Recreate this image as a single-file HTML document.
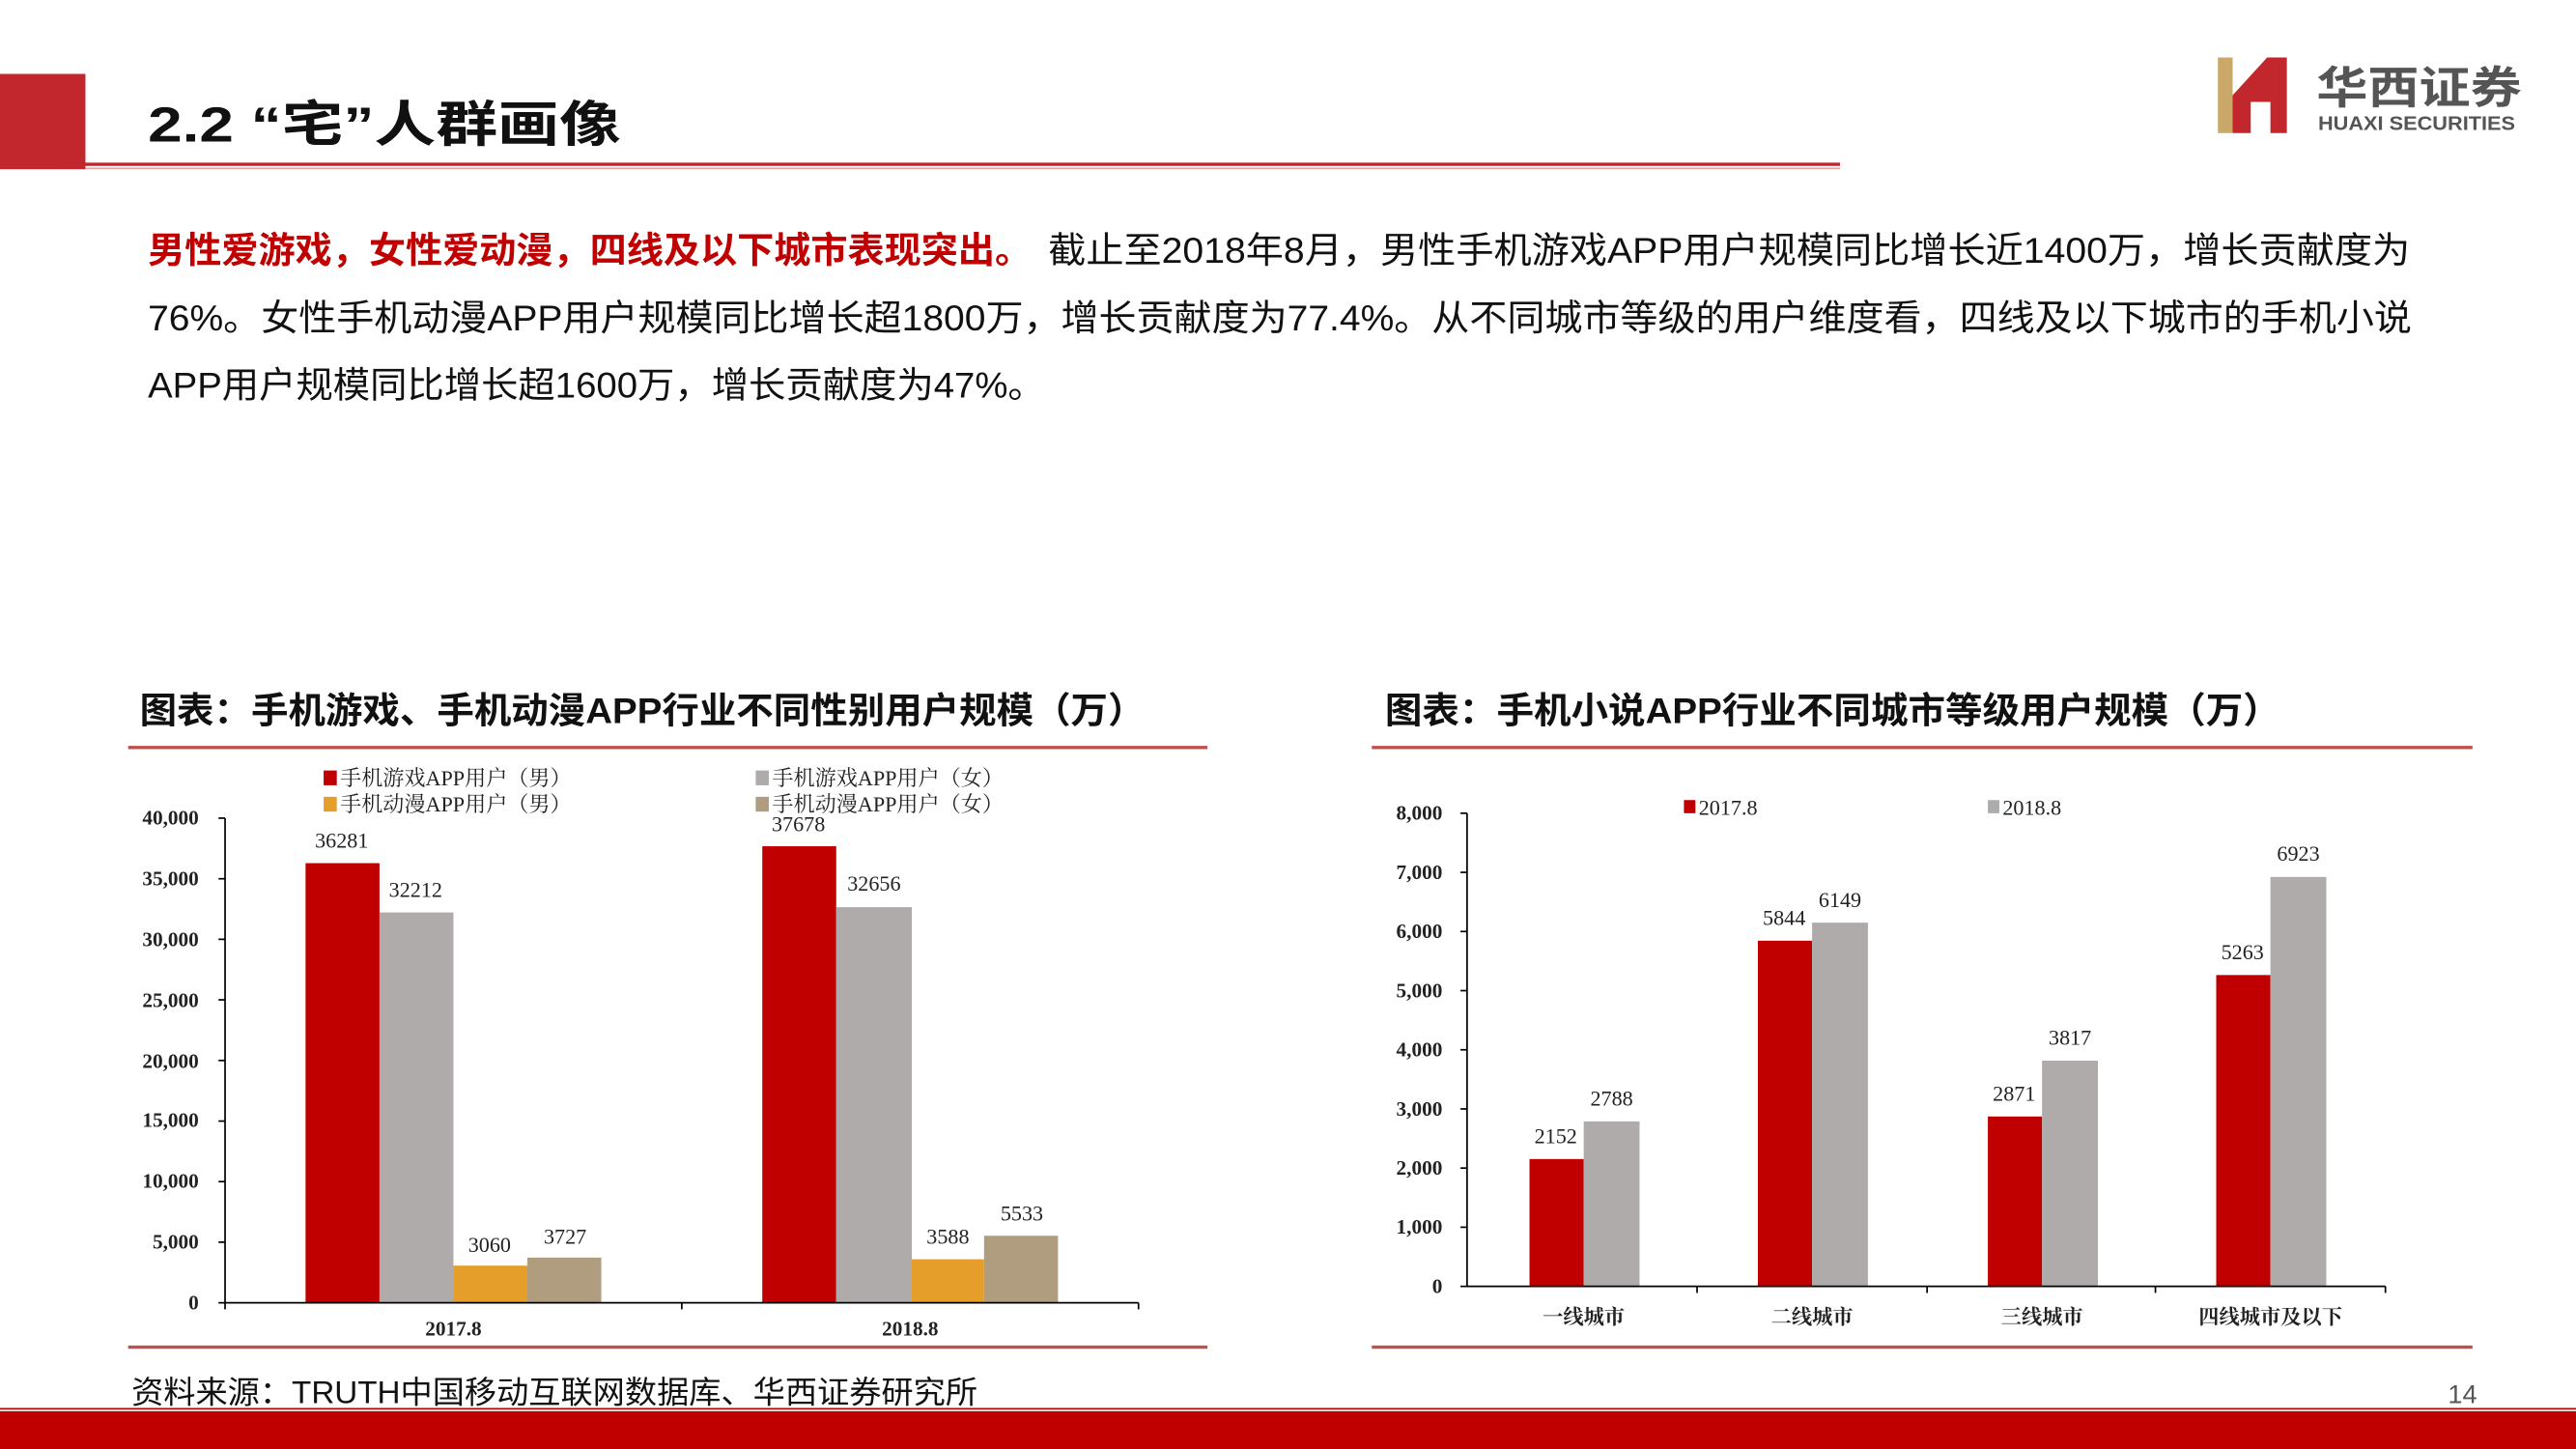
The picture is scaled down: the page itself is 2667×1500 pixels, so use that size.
<!DOCTYPE html>
<html><head><meta charset="utf-8"><style>
html,body{margin:0;padding:0;background:#fff;}
svg{display:block;}
text{font-family:"Liberation Sans","Noto Sans CJK SC",sans-serif;}
.s,.s text{font-family:"Liberation Serif","Noto Serif CJK SC",serif;font-size:13px;fill:#222;}
.t,.t text{font-family:"Liberation Serif","Noto Serif CJK SC",serif;font-size:12.5px;fill:#222;font-weight:bold;}
</style></head><body>
<svg width="2667" height="1500" viewBox="0 0 1568 882" preserveAspectRatio="none" xmlns="http://www.w3.org/2000/svg">
<rect x="0" y="0" width="1568" height="882" fill="#fff"/>
<rect x="0" y="45" width="52" height="58" fill="#c1272d"/>
<rect x="37" y="99" width="1083" height="2" fill="#c1272d"/>
<rect x="52" y="102" width="1068" height="1" fill="#e8a0a0"/>
<text x="90" y="86" font-size="30" font-weight="bold" fill="#111" textLength="288" lengthAdjust="spacingAndGlyphs">2.2 “宅”人群画像</text>
<rect x="1350" y="35" width="9" height="46" fill="#c9a86a"/>
<polygon points="1359,58 1380,35 1392,35 1392,81 1382,81 1382,62 1370,62 1370,81 1359,81" fill="#c1272d"/>
<text x="1410" y="63" font-size="27" font-weight="bold" fill="#555" textLength="125" lengthAdjust="spacingAndGlyphs">华西证券</text>
<text x="1411" y="79" font-size="12" font-weight="bold" fill="#555" textLength="120" lengthAdjust="spacingAndGlyphs">HUAXI SECURITIES</text>
<text x="90" y="160" font-size="22" font-weight="bold" fill="#c00000" textLength="538" lengthAdjust="spacingAndGlyphs">男性爱游戏，女性爱动漫，四线及以下城市表现突出。</text>
<text x="638" y="160" font-size="22" fill="#111" textLength="829" lengthAdjust="spacingAndGlyphs">截止至2018年8月，男性手机游戏APP用户规模同比增长近1400万，增长贡献度为</text>
<text x="90" y="201" font-size="22" fill="#111" textLength="1378" lengthAdjust="spacingAndGlyphs">76%。女性手机动漫APP用户规模同比增长超1800万，增长贡献度为77.4%。从不同城市等级的用户维度看，四线及以下城市的手机小说</text>
<text x="90" y="242" font-size="22" fill="#111" textLength="546" lengthAdjust="spacingAndGlyphs">APP用户规模同比增长超1600万，增长贡献度为47%。</text>
<text x="85" y="440" font-size="22" font-weight="bold" fill="#111" textLength="612" lengthAdjust="spacingAndGlyphs">图表：手机游戏、手机动漫APP行业不同性别用户规模（万）</text>
<text x="843" y="440" font-size="22" font-weight="bold" fill="#111" textLength="545" lengthAdjust="spacingAndGlyphs">图表：手机小说APP行业不同城市等级用户规模（万）</text>
<rect x="78" y="454" width="657" height="2" fill="#c0504d"/>
<rect x="835" y="454" width="670" height="2" fill="#c0504d"/>
<rect x="78" y="819" width="657" height="2" fill="#c0504d"/>
<rect x="835" y="819" width="670" height="2" fill="#c0504d"/>
<g>
<rect x="197" y="469" width="8" height="9" fill="#c00000"/><text class="s" x="207" y="478">手机游戏APP用户（男）</text>
<rect x="197" y="485" width="8" height="9" fill="#e69e2a"/><text class="s" x="207" y="494">手机动漫APP用户（男）</text>
<rect x="460" y="469" width="8" height="9" fill="#afabab"/><text class="s" x="470" y="478">手机游戏APP用户（女）</text>
<rect x="460" y="485" width="8" height="9" fill="#b09c7f"/><text class="s" x="470" y="494">手机动漫APP用户（女）</text>
<rect x="186" y="525.4" width="45" height="267.6" fill="#c00000"/>
<rect x="231" y="555.4" width="45" height="237.6" fill="#afabab"/>
<rect x="276" y="770.4" width="45" height="22.6" fill="#e69e2a"/>
<rect x="321" y="765.5" width="45" height="27.5" fill="#b09c7f"/>
<rect x="464" y="515.1" width="45" height="277.9" fill="#c00000"/>
<rect x="509" y="552.2" width="46" height="240.8" fill="#afabab"/>
<rect x="555" y="766.5" width="44" height="26.5" fill="#e69e2a"/>
<rect x="599" y="752.2" width="45" height="40.8" fill="#b09c7f"/>
<g class="s" text-anchor="middle">
<text x="208" y="516">36281</text><text x="253" y="546">32212</text><text x="298" y="762">3060</text><text x="344" y="757">3727</text>
<text x="486" y="506">37678</text><text x="532" y="542">32656</text><text x="577" y="757">3588</text><text x="622" y="743">5533</text>
</g>
<line x1="137" y1="498" x2="137" y2="793" stroke="#000" stroke-width="1"/>
<line x1="137" y1="793" x2="693" y2="793" stroke="#000" stroke-width="1"/>
<g stroke="#000" stroke-width="1">
<line x1="133" y1="793" x2="137" y2="793"/><line x1="133" y1="756.1" x2="137" y2="756.1"/><line x1="133" y1="719.25" x2="137" y2="719.25"/><line x1="133" y1="682.4" x2="137" y2="682.4"/><line x1="133" y1="645.5" x2="137" y2="645.5"/><line x1="133" y1="608.6" x2="137" y2="608.6"/><line x1="133" y1="571.75" x2="137" y2="571.75"/><line x1="133" y1="534.9" x2="137" y2="534.9"/><line x1="133" y1="498" x2="137" y2="498"/>
<line x1="415" y1="793" x2="415" y2="797"/><line x1="693" y1="793" x2="693" y2="797"/><line x1="137" y1="793" x2="137" y2="797"/>
</g>
<g class="t" text-anchor="end">
<text x="121" y="797">0</text><text x="121" y="760">5,000</text><text x="121" y="723">10,000</text><text x="121" y="686">15,000</text><text x="121" y="650">20,000</text><text x="121" y="613">25,000</text><text x="121" y="576">30,000</text><text x="121" y="539">35,000</text><text x="121" y="502">40,000</text>
</g>
<g class="t" text-anchor="middle"><text x="276" y="813">2017.8</text><text x="554" y="813">2018.8</text></g>
</g>
<g>
<rect x="1025" y="487" width="7" height="8" fill="#c00000"/><text class="s" x="1034" y="496">2017.8</text>
<rect x="1210" y="487" width="7" height="8" fill="#afabab"/><text class="s" x="1219" y="496">2018.8</text>
<rect x="931" y="705.5" width="33" height="77.5" fill="#c00000"/><rect x="964" y="682.6" width="34" height="100.4" fill="#afabab"/>
<rect x="1070" y="572.6" width="33" height="210.4" fill="#c00000"/><rect x="1103" y="561.6" width="34" height="221.4" fill="#afabab"/>
<rect x="1210" y="679.6" width="33" height="103.4" fill="#c00000"/><rect x="1243" y="645.6" width="34" height="137.4" fill="#afabab"/>
<rect x="1349" y="593.5" width="33" height="189.5" fill="#c00000"/><rect x="1382" y="533.8" width="34" height="249.2" fill="#afabab"/>
<g class="s" text-anchor="middle">
<text x="947" y="696">2152</text><text x="981" y="673">2788</text>
<text x="1086" y="563">5844</text><text x="1120" y="552">6149</text>
<text x="1226" y="670">2871</text><text x="1260" y="636">3817</text>
<text x="1365" y="584">5263</text><text x="1399" y="524">6923</text>
</g>
<line x1="893" y1="495" x2="893" y2="783" stroke="#000"/>
<line x1="893" y1="783" x2="1452" y2="783" stroke="#000"/>
<g stroke="#000">
<line x1="889" y1="783" x2="893" y2="783"/><line x1="889" y1="747" x2="893" y2="747"/><line x1="889" y1="711" x2="893" y2="711"/><line x1="889" y1="675" x2="893" y2="675"/><line x1="889" y1="639" x2="893" y2="639"/><line x1="889" y1="603" x2="893" y2="603"/><line x1="889" y1="567" x2="893" y2="567"/><line x1="889" y1="531" x2="893" y2="531"/><line x1="889" y1="495" x2="893" y2="495"/>
<line x1="1033" y1="783" x2="1033" y2="787"/><line x1="1173" y1="783" x2="1173" y2="787"/><line x1="1312" y1="783" x2="1312" y2="787"/><line x1="1452" y1="783" x2="1452" y2="787"/>
</g>
<g class="t" text-anchor="end">
<text x="878" y="787">0</text><text x="878" y="751">1,000</text><text x="878" y="715">2,000</text><text x="878" y="679">3,000</text><text x="878" y="643">4,000</text><text x="878" y="607">5,000</text><text x="878" y="571">6,000</text><text x="878" y="535">7,000</text><text x="878" y="499">8,000</text>
</g>
<g class="t" text-anchor="middle"><text x="964" y="806">一线城市</text><text x="1103" y="806">二线城市</text><text x="1243" y="806">三线城市</text><text x="1382" y="806">四线城市及以下</text></g>
</g>
<text x="80" y="854" font-size="19" fill="#111" textLength="515" lengthAdjust="spacingAndGlyphs">资料来源：TRUTH中国移动互联网数据库、华西证券研究所</text>
<text x="1490" y="854" font-size="16" fill="#555">14</text>
<rect x="0" y="857" width="1568" height="1" fill="#c00000"/>
<rect x="0" y="859" width="1568" height="23" fill="#c00000"/>
</svg>
</body></html>
